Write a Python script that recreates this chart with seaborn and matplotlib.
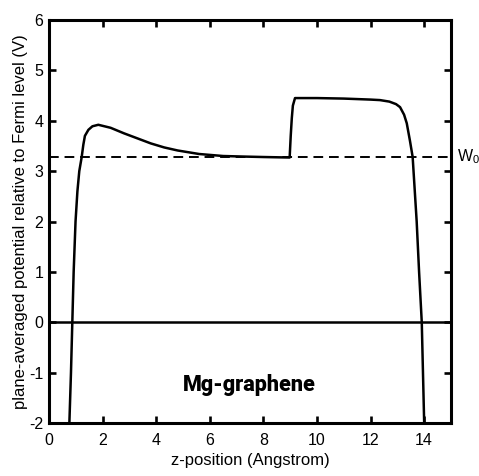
import numpy as np
import pandas as pd
import seaborn as sns
import matplotlib
matplotlib.use("Agg")
import matplotlib.pyplot as plt

# potential profile
z_pos = [0.76, 0.82, 0.87, 0.92, 0.99, 1.06, 1.13, 1.22, 1.28, 1.34, 1.47, 1.62, 1.84,
         2.30, 2.80, 3.30, 3.80, 4.30, 4.80, 5.60, 6.50, 7.20, 8.00, 8.98,
         9.02, 9.06, 9.10, 9.18, 10.0, 11.0, 12.0, 12.35, 12.7, 12.95, 13.1, 13.25,
         13.35, 13.47, 13.57, 13.72, 13.81, 13.91, 14.0]
potential = [-2.0, -1.0, 0.0, 1.0, 2.0, 2.6, 3.0, 3.28, 3.52, 3.7, 3.82, 3.89, 3.92,
             3.86, 3.75, 3.65, 3.55, 3.47, 3.41, 3.34, 3.30, 3.29, 3.28, 3.27,
             3.7, 4.05, 4.3, 4.45, 4.45, 4.44, 4.42, 4.41, 4.38, 4.33, 4.27, 4.12,
             3.95, 3.6, 3.28, 2.0, 1.0, 0.0, -2.0]
w0 = 3.28
fermi = 0.0
label = "Mg-graphene"

xticks = list(range(0, 16, 2))
yticks = list(range(-2, 7))

plt.rcParams['font.family'] = ['Liberation Sans', 'DejaVu Sans']
plt.rcParams['mathtext.default'] = 'regular'
plt.rcParams['axes.unicode_minus'] = False

df = pd.DataFrame({"z": z_pos, "V": potential})

fig = plt.figure(figsize=(4.79, 4.76), dpi=100)
ax = fig.add_axes([0.1023, 0.1113, 0.8392, 0.8467])
ax.set_axisbelow(False)

sns.lineplot(data=df, x="z", y="V", sort=False, color="black", lw=1.8, ax=ax)
ax.axhline(w0, color="black", lw=1.4, ls=(0, (5, 3)))
ax.axhline(fermi, color="black", lw=1.8)

ax.set_xlim(0, 15)
ax.set_ylim(-2, 6)
ax.set_xticks(xticks)
ax.set_yticks(yticks)
for s in ax.spines.values():
    s.set_linewidth(2.2)
    s.set_color("black")

ax.set_xlabel("z-position (Angstrom)", fontsize=12, labelpad=4)
ax.set_ylabel("plane-averaged potential relative to Fermi level (V)", fontsize=12, labelpad=1)

ax.text(7.48, -1.24, label, fontsize=15.5, fontweight="black", ha="center", va="center",
        family=["Roboto", "Liberation Sans"])
ax.text(1.015, w0, "W$_0$", transform=ax.get_yaxis_transform(), fontsize=11.5,
        ha="left", va="center")

ax.tick_params(direction="in", length=5, width=1.9, color="black", top=True, right=True,
               labelsize=11.5, labelcolor="black")
ax.tick_params(axis="x", pad=7)
ax.tick_params(axis="y", pad=4)

fig.savefig("out.png", dpi=100)
